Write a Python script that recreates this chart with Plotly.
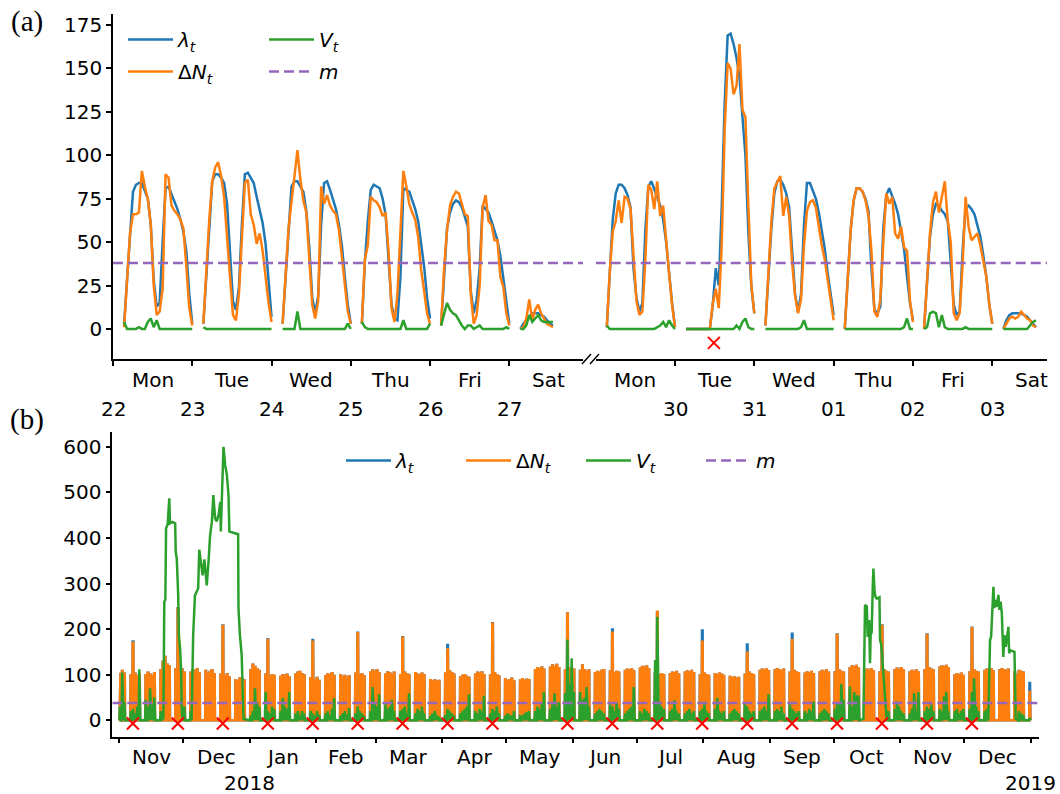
import pandas as pd
import plotly.graph_objects as go

# ---------------- Panel (a): two trading weeks, Oct 22 - Nov 3 ----------------
day_names = ["Mon", "Tue", "Wed", "Thu", "Fri", "Sat"]
week1_dates = ["22", "23", "24", "25", "26", "27"]
week2_dates = ["30", "31", "01", "02", "03"]
week1_day_index = [0, 1, 2, 3, 4, 5]          # days since Mon 22 Oct
week2_day_index = [7, 8, 9, 10, 11, 12]
m_value = 38

lam_week1 = [
    [3, 27, 52, 79, 83, 84, 84, 80, 75, 60, 28, 13, 15, 50, 81, 82, 78, 74, 69, 63, 56, 45, 20, 3],
    [3, 30, 60, 85, 89, 89, 87, 84, 72, 44, 16, 11, 24, 60, 89, 90, 87, 84, 76, 69, 61, 49, 27, 7],
    [3, 30, 57, 82, 85, 85, 82, 79, 68, 47, 18, 9, 19, 60, 84, 85, 80, 75, 69, 60, 48, 30, 14, 3],
    [3, 38, 62, 80, 83, 82, 81, 75, 66, 40, 14, 6, 5, 30, 81, 80, 79, 74, 69, 62, 49, 36, 18, 6],
    [2, 30, 58, 67, 72, 74, 73, 70, 65, 59, 22, 9, 17, 35, 71, 69, 67, 62, 57, 51, 42, 29, 14, 3],
    [0, 3, 5, 7, 9, 9, 9, 8, 7, 5, 3, 2],
]
dN_week1 = [
    [1, 25, 55, 66, 66, 67, 91, 82, 75, 60, 25, 8, 10, 23, 89, 87, 71, 68, 66, 63, 58, 36, 12, 2],
    [3, 35, 63, 85, 93, 96, 88, 76, 50, 30, 8, 5, 20, 55, 84, 86, 66, 60, 49, 55, 45, 30, 15, 4],
    [3, 30, 58, 73, 87, 103, 86, 74, 67, 42, 14, 6, 16, 82, 72, 77, 71, 68, 66, 57, 42, 27, 10, 3],
    [3, 40, 48, 76, 74, 73, 70, 65, 67, 45, 12, 4, 20, 60, 91, 82, 72, 67, 63, 53, 34, 22, 9, 3],
    [2, 35, 57, 71, 76, 79, 78, 72, 66, 65, 20, 3, 8, 25, 70, 77, 62, 60, 51, 51, 30, 24, 9, 2],
    [0, 1, 6, 17, 5, 11, 14, 9, 6, 3, 2, 1],
]
V_week1 = [
    [4, 0, 0, 0, 0, 1, 0, 0, 4, 6, 1, 5, 0, 0, 0, 0, 0, 0, 0, 0, 0, 0, 0, 0],
    [1, 0, 0, 0, 0, 0, 0, 0, 0, 0, 0, 0, 0, 0, 0, 0, 0, 0, 0, 0, 0, 0, 0, 0],
    [0, 0, 0, 0, 0, 10, 0, 0, 0, 0, 0, 0, 0, 0, 0, 0, 0, 0, 0, 0, 0, 0, 3, 0],
    [4, 1, 0, 0, 0, 0, 0, 0, 0, 0, 0, 0, 0, 0, 5, 0, 0, 0, 0, 0, 0, 0, 0, 3],
    [2, 8, 15, 11, 9, 8, 5, 2, 0, 2, 2, 0, 1, 2, 0, 0, 0, 0, 0, 0, 0, 0, 1, 0],
    [0, 0, 2, 8, 4, 6, 8, 5, 4, 4, 4, 4],
]
lam_week2 = [
    [1, 32, 63, 78, 83, 83, 81, 77, 70, 35, 18, 10, 15, 57, 82, 85, 81, 76, 71, 63, 50, 32, 15, 1],
    [0, 0, 0, 0, 0, 0, 0, 0, 0, 14, 35, 25, 70, 130, 169, 170, 164, 156, 145, 122, 100, 55, 24, 9],
    [2, 32, 58, 78, 85, 86, 83, 78, 70, 45, 20, 10, 20, 60, 84, 84, 80, 75, 67, 57, 46, 32, 19, 8],
    [0, 28, 57, 74, 81, 81, 79, 75, 68, 35, 11, 9, 13, 58, 77, 81, 77, 72, 66, 57, 46, 30, 15, 5],
    [0, 28, 53, 66, 72, 71, 68, 66, 62, 38, 14, 8, 10, 45, 70, 71, 69, 66, 60, 53, 42, 30, 14, 3],
    [0, 5, 8, 9, 9, 9, 9, 8, 7, 5, 3, 1],
]
dN_week2 = [
    [1, 33, 56, 62, 74, 61, 76, 75, 69, 40, 16, 8, 10, 40, 83, 80, 69, 85, 65, 71, 49, 32, 14, 1],
    [0, 0, 0, 0, 0, 0, 0, 0, 0, 15, 23, 12, 48, 115, 153, 150, 135, 140, 164, 126, 122, 70, 25, 9],
    [2, 34, 62, 81, 85, 88, 65, 76, 65, 38, 19, 9, 17, 48, 68, 73, 74, 70, 59, 48, 40, 28, 14, 5],
    [0, 30, 57, 74, 81, 81, 79, 74, 65, 45, 10, 7, 17, 50, 78, 72, 76, 55, 52, 59, 47, 45, 16, 4],
    [0, 28, 55, 73, 79, 67, 75, 85, 62, 50, 9, 5, 9, 37, 76, 59, 51, 53, 55, 48, 38, 30, 14, 3],
    [0, 3, 6, 7, 6, 7, 10, 8, 6, 5, 2, 1],
]
V_week2 = [
    [2, 0, 0, 0, 0, 0, 0, 0, 0, 0, 0, 0, 0, 0, 0, 0, 0, 1, 2, 4, 1, 5, 2, 0],
    [0, 0, 0, 0, 0, 0, 0, 0, 0, 0, 0, 0, 0, 0, 0, 0, 0, 2, 0, 4, 6, 1, 0, 0],
    [0, 0, 0, 0, 0, 0, 0, 0, 0, 0, 0, 0, 1, 5, 0, 0, 0, 0, 0, 0, 0, 0, 0, 0],
    [0, 0, 0, 0, 0, 0, 0, 0, 0, 0, 0, 0, 0, 0, 0, 0, 0, 0, 0, 0, 1, 6, 0, 0],
    [0, 1, 9, 10, 9, 1, 8, 1, 0, 0, 0, 0, 0, 0, 1, 0, 0, 0, 0, 0, 0, 0, 0, 0],
    [0, 0, 0, 0, 0, 0, 0, 0, 0, 2, 4, 5],
]
event_a_day = [8.49]   # Tue 30 Oct, around midday

# ---------------- Panel (b): Nov 2017 - Dec 2018 ----------------
b_first_monday = "2017-10-30"
b_data_start = "2017-11-01"
b_data_end = "2018-12-31"
dN_daily = [  # daily peak of ΔN, Mon..Fri, one row per week
    [0, 0, 104, 108, 102], [98, 100, 102, 96, 101], [99, 104, 100, 97, 103],
    [110, 128, 139, 122, 118], [112, 108, 106, 111, 104], [104, 110, 107, 112, 103],
    [108, 102, 106, 110, 101], [100, 98, 96, 101, 94], [88, 85, 92, 90, 87],
    [110, 122, 117, 112, 108], [100, 98, 95, 99, 97], [95, 99, 97, 100, 94],
    [100, 104, 106, 101, 98], [92, 90, 88, 93, 86], [96, 101, 99, 103, 97],
    [98, 95, 97, 93, 96], [102, 100, 98, 101, 96], [104, 109, 106, 110, 103],
    [100, 105, 103, 99, 104], [99, 102, 104, 101, 98], [103, 100, 98, 102, 99],
    [88, 85, 87, 84, 86], [102, 105, 107, 103, 100], [94, 97, 99, 95, 93],
    [100, 104, 102, 105, 99], [98, 100, 103, 99, 96], [90, 86, 88, 91, 85],
    [87, 90, 86, 89, 88], [110, 114, 112, 116, 111], [115, 120, 117, 121, 114],
    [110, 112, 114, 108, 111], [108, 120, 110, 106, 109], [103, 106, 104, 108, 110],
    [107, 105, 103, 106, 104], [108, 111, 109, 112, 107], [113, 117, 115, 118, 112],
    [102, 100, 98, 101, 99], [101, 104, 103, 106, 100], [104, 107, 105, 108, 103],
    [98, 100, 102, 99, 97], [101, 99, 102, 100, 97], [95, 92, 94, 91, 93],
    [100, 102, 104, 101, 99], [108, 111, 109, 112, 107], [109, 112, 110, 108, 111],
    [104, 106, 108, 105, 103], [102, 105, 103, 106, 101], [105, 108, 106, 109, 104],
    [105, 107, 109, 106, 104], [114, 118, 116, 119, 113], [108, 111, 109, 112, 107],
    [105, 107, 109, 106, 104], [110, 113, 111, 114, 109], [105, 108, 106, 109, 104],
    [110, 112, 114, 111, 109], [115, 118, 116, 119, 114], [98, 101, 99, 102, 97],
    [105, 107, 109, 106, 104], [108, 111, 109, 112, 107], [109, 112, 110, 108, 111],
    [105, 98, 108, 106, 104], [62, 0, 0, 0, 0],
]
V_daily = [  # daily peak of V outside the long excursions (None = inside an excursion)
    [0, 0, 30, 105, 40], [20, 25, 15, 30, 112], [45, 30, 70, 35, 50],
    [20, None, None, None, None], [None, None, None, None, 30],
    [20, None, None, None, None], [None] * 5, [None] * 5, [None] * 5,
    [10, 20, 70, 40, 30], [62, 20, 15, 30, 25], [20, 49, 30, 25, 62],
    [15, 20, 10, 20, 15], [20, 15, 10, 20, 12], [15, 20, 10, 25, 49],
    [10, 15, 20, 12, 27], [15, 30, 20, 15, 10], [20, 73, 40, 30, 57],
    [35, 25, 30, 45, 20], [20, 25, 30, 15, 59], [15, 25, 20, 30, 15],
    [10, 15, 20, 10, 8], [12, 25, 20, 15, 10], [15, 20, 25, 30, 57],
    [20, 15, 25, 20, 54], [15, 25, 20, 30, 15], [10, 15, 12, 10, 20],
    [12, 10, 15, 18, 20], [20, 30, 25, 35, 62], [25, 35, 59, 30, 40],
    [60, 177, 80, 136, 62], [62, 45, 50, 73, 30], [15, 20, 25, 20, 15],
    [35, 30, 20, 38, 25], [15, 20, 25, 30, 73], [20, 15, 25, 20, 15],
    [132, 227, 40, 30, 25], [20, 25, 44, 20, 15], [15, 20, 25, 15, 20],
    [20, 25, 35, 20, 15], [25, 49, 20, 15, 20], [15, 20, 25, 20, 15],
    [35, 30, 20, 15, 20], [20, 25, 30, 20, 57], [20, 25, 20, 30, 15],
    [35, 25, 20, 15, 20], [20, 15, 25, 20, 41], [15, 20, 25, 20, 15],
    [25, 35, 40, 80, 45], [74, 30, 62, 55, 55], [None] * 5,
    [None, None, None, None, 20], [25, 41, 30, 20, 15], [15, 25, 59, 20, 62],
    [20, 30, 25, 35, 20], [25, 20, 52, 62, 20], [20, 25, 15, 20, 25],
    [25, 62, 92, 30, 20], [20, 25, None, None, None], [None] * 5,
    [None, None, 20, 15, 12], [5, 0, 0, 0, 0],
]
event_dates = ["2017-11-07", "2017-11-28", "2017-12-19", "2018-01-09", "2018-01-30",
               "2018-02-20", "2018-03-13", "2018-04-03", "2018-04-24", "2018-05-29",
               "2018-06-19", "2018-07-10", "2018-07-31", "2018-08-21", "2018-09-11",
               "2018-10-02", "2018-10-23", "2018-11-13", "2018-12-04"]
event_dN = [170, 245, 207, 176, 172, 191, 181, 155, 212, 234,
            192, 238, 172, 148, 176, 187, 207, 187, 202]
event_lam = [173, 246, 208, 178, 176, 192, 182, 165, 213, 235,
             199, 236, 197, 166, 190, 188, 208, 188, 203]
lam_extra_dates = ["2018-12-31"]
lam_extra_vals = [82]

V_hump1_t = ["2017-11-21 18:00", "2017-11-22 04:00", "2017-11-22 16:00", "2017-11-23 00:00",
             "2017-11-23 18:00", "2017-11-24 12:00", "2017-11-24 20:00", "2017-11-26 00:00",
             "2017-11-27 06:00", "2017-11-27 12:00", "2017-11-28 00:00", "2017-11-28 16:00",
             "2017-11-29 00:00", "2017-11-29 12:00", "2017-11-30 00:00", "2017-11-30 08:00",
             "2017-11-30 18:00"]
V_hump1_v = [5, 260, 265, 421, 430, 487, 432, 435, 432, 370, 355, 274, 187, 160, 114, 18, 3]
V_hump2_t = ["2017-12-05 00:00", "2017-12-05 16:00", "2017-12-06 12:00", "2017-12-08 00:00",
             "2017-12-08 12:00", "2017-12-09 02:00", "2017-12-10 02:00", "2017-12-10 22:00",
             "2017-12-12 00:00", "2017-12-12 20:00", "2017-12-13 14:00", "2017-12-14 10:00",
             "2017-12-15 02:00", "2017-12-15 22:00", "2017-12-16 16:00", "2017-12-17 12:00",
             "2017-12-18 08:00", "2017-12-18 14:00", "2017-12-19 02:00", "2017-12-19 20:00",
             "2017-12-20 14:00", "2017-12-21 10:00", "2017-12-22 04:00", "2017-12-22 14:00",
             "2017-12-26 16:00", "2017-12-26 20:00", "2017-12-27 12:00", "2017-12-28 08:00",
             "2017-12-29 02:00", "2017-12-29 06:00"]
V_hump2_v = [20, 187, 274, 289, 374, 348, 318, 353, 296, 348, 406, 436, 494, 443, 436, 450,
             479, 414, 501, 600, 560, 538, 494, 414, 408, 246, 187, 143, 18, 3]
V_hump3_t = ["2018-10-14 20:00", "2018-10-15 14:00", "2018-10-16 10:00", "2018-10-16 20:00",
             "2018-10-17 12:00", "2018-10-17 22:00", "2018-10-18 08:00", "2018-10-18 16:00",
             "2018-10-19 05:00", "2018-10-19 12:00", "2018-10-20 00:00", "2018-10-20 10:00",
             "2018-10-21 02:00", "2018-10-22 08:00", "2018-10-22 14:00", "2018-10-23 02:00",
             "2018-10-23 12:00", "2018-10-24 05:00", "2018-10-24 22:00", "2018-10-25 16:00"]
V_hump3_v = [3, 253, 250, 183, 220, 125, 212, 190, 293, 333, 286, 271, 267, 270, 176, 168,
             147, 103, 52, 3]
V_hump4_t = ["2018-12-12 05:00", "2018-12-13 00:00", "2018-12-13 12:00", "2018-12-14 02:00",
             "2018-12-14 14:00", "2018-12-15 00:00", "2018-12-15 17:00", "2018-12-16 02:00",
             "2018-12-16 22:00", "2018-12-17 10:00", "2018-12-17 22:00", "2018-12-18 12:00",
             "2018-12-18 22:00", "2018-12-19 05:00", "2018-12-19 17:00", "2018-12-20 07:00",
             "2018-12-20 19:00", "2018-12-21 14:00", "2018-12-21 22:00", "2018-12-22 10:00",
             "2018-12-24 10:00", "2018-12-24 17:00", "2018-12-25 00:00"]
V_hump4_v = [3, 176, 183, 257, 293, 246, 264, 249, 275, 242, 260, 235, 183, 139, 187, 161,
             176, 205, 147, 154, 150, 88, 3]
month_labels = ["Nov", "Dec", "Jan", "Feb", "Mar", "Apr", "May", "Jun", "Jul", "Aug",
                "Sep", "Oct", "Nov", "Dec"]
year_labels = ["2018", "2019"]
year_dates = ["2018-01-01", "2019-01-01"]

# ---------------- styling ----------------
W, H = 1060, 794
C_BLUE, C_ORANGE, C_GREEN, C_PURPLE = "#1f77b4", "#ff7f0e", "#2ca02c", "#9467bd"
LW = 2.5
FONT = "DejaVu Sans"
FS = 20
NAME_LAM = "<i>λ</i><sub><i>t</i></sub>"
NAME_DN = "Δ<i>N</i><sub><i>t</i></sub>"
NAME_V = "<i>V</i><sub><i>t</i></sub>"
NAME_M = "<i>m</i>"
SAMPLE_START = 0.14
SAMPLE_STEP = 0.86 / 23
XA1_RANGE = [0, 5.93]
XA2_RANGE = [7, 12.69]
XB_RANGE = [pd.Timestamp("2017-10-28 21:00"), pd.Timestamp("2019-01-04 21:00")]


def px_x(p):
    return p / W


def px_y(p):
    return 1 - p / H


def day_series(days, values):
    xs, ys = [], []
    for d, vals in zip(days, values):
        for i, v in enumerate(vals):
            xs.append(d + SAMPLE_START + i * SAMPLE_STEP)
            ys.append(v)
        xs.append(None)
        ys.append(None)
    return xs, ys


fig = go.Figure()

# Panel (a) traces
for axis, days, lam, dN, V, show in [
    ("x", week1_day_index, lam_week1, dN_week1, V_week1, True),
    ("x2", week2_day_index, lam_week2, dN_week2, V_week2, False),
]:
    for vals, color, name, leg, rank in [
        (lam, C_BLUE, NAME_LAM, "legend", 1),
        (dN, C_ORANGE, NAME_DN, "legend", 2),
        (V, C_GREEN, NAME_V, "legend2", 1),
    ]:
        x, y = day_series(days, vals)
        fig.add_trace(go.Scatter(x=x, y=y, xaxis=axis, yaxis="y", mode="lines",
                                 line=dict(color=color, width=LW), name=name,
                                 legend=leg, legendrank=rank, legendgroup=name + leg,
                                 showlegend=show, hoverinfo="skip"))
    rng = XA1_RANGE if axis == "x" else XA2_RANGE
    fig.add_trace(go.Scatter(x=rng, y=[m_value, m_value], xaxis=axis, yaxis="y", mode="lines",
                             line=dict(color=C_PURPLE, width=LW, dash="10px,5px"), name=NAME_M,
                             legend="legend2", legendrank=2, legendgroup="m2",
                             showlegend=show, hoverinfo="skip"))

fig.add_trace(go.Scatter(x=event_a_day, y=[-8] * len(event_a_day), xaxis="x2", yaxis="y",
                         mode="markers", showlegend=False, hoverinfo="skip",
                         marker=dict(symbol="x-thin", size=12, color="red",
                                     line=dict(color="red", width=2))))

# Panel (b) traces
monday0 = pd.Timestamp(b_first_monday)
start = pd.Timestamp(b_data_start)
end = pd.Timestamp(b_data_end)
ev_dN = {pd.Timestamp(d): v for d, v in zip(event_dates, event_dN)}
ev_lam = {pd.Timestamp(d): v for d, v in zip(event_dates, event_lam)}
for d, v in zip(lam_extra_dates, lam_extra_vals):
    ev_lam[pd.Timestamp(d)] = v

FR4 = [0.28, 0.42, 0.70, 0.84]
lam_x, lam_y, dn_x, dn_y = [], [], [], []
green_pts = []
for w, week_vals in enumerate(dN_daily):
    for k in range(5):
        d = monday0 + pd.Timedelta(days=7 * w + k)
        if d < start or d > end:
            continue
        Ld = ev_dN.get(d, week_vals[k])
        Ll = ev_lam.get(d, week_vals[k])
        for f, on in zip(FR4, [0, 1, 1, 0]):
            t = d + pd.Timedelta(hours=24 * f)
            dn_x.append(t)
            dn_y.append(Ld * on)
            lam_x.append(t)
            lam_y.append(Ll * on)
        gv = V_daily[w][k]
        if gv is not None:
            for f, val in zip([0.2, 0.5, 0.9], [0, gv, 0]):
                green_pts.append((d + pd.Timedelta(hours=24 * f), val))
for ts, vs in [(V_hump1_t, V_hump1_v), (V_hump2_t, V_hump2_v),
               (V_hump3_t, V_hump3_v), (V_hump4_t, V_hump4_v)]:
    for t, v in zip(ts, vs):
        green_pts.append((pd.Timestamp(t), v))
green_pts.sort(key=lambda p: p[0])

fig.add_trace(go.Scatter(x=lam_x, y=lam_y, xaxis="x3", yaxis="y3", mode="lines",
                         line=dict(color=C_BLUE, width=LW), name=NAME_LAM,
                         legend="legend3", legendrank=1, hoverinfo="skip"))
fig.add_trace(go.Scatter(x=dn_x, y=dn_y, xaxis="x3", yaxis="y3", mode="lines",
                         line=dict(color=C_ORANGE, width=LW), name=NAME_DN,
                         legend="legend3", legendrank=2, hoverinfo="skip"))
fig.add_trace(go.Scatter(x=[p[0] for p in green_pts], y=[p[1] for p in green_pts],
                         xaxis="x3", yaxis="y3", mode="lines",
                         line=dict(color=C_GREEN, width=LW), name=NAME_V,
                         legend="legend3", legendrank=3, hoverinfo="skip"))
fig.add_trace(go.Scatter(x=XB_RANGE, y=[m_value, m_value], xaxis="x3", yaxis="y3", mode="lines",
                         line=dict(color=C_PURPLE, width=LW, dash="10px,5px"), name=NAME_M,
                         legend="legend3", legendrank=4, hoverinfo="skip"))
fig.add_trace(go.Scatter(x=[pd.Timestamp(d) + pd.Timedelta(hours=12) for d in event_dates],
                         y=[-7] * len(event_dates), xaxis="x3", yaxis="y3", mode="markers",
                         showlegend=False, hoverinfo="skip",
                         marker=dict(symbol="x-thin", size=12, color="red",
                                     line=dict(color="red", width=2))))

# ---------------- axes ----------------
axis_common = dict(showline=True, linecolor="black", linewidth=1.5, ticks="outside",
                   ticklen=5, tickwidth=1.5, tickcolor="black", showgrid=False,
                   zeroline=False, tickfont=dict(family=FONT, size=FS, color="black"))
month_ticks = pd.date_range("2017-11-01", "2019-01-01", freq="MS")
leg_font = dict(family=FONT, size=FS, color="black")

fig.update_layout(
    width=W, height=H, margin=dict(l=0, r=0, t=0, b=0),
    paper_bgcolor="white", plot_bgcolor="white",
    xaxis=dict(domain=[px_x(113), px_x(583)], range=XA1_RANGE, anchor="y",
               tickmode="array", tickvals=week1_day_index, showticklabels=False, **axis_common),
    xaxis2=dict(domain=[px_x(595.7), px_x(1047)], range=XA2_RANGE, anchor="y",
                tickmode="array", tickvals=week2_day_index[1:], showticklabels=False, **axis_common),
    yaxis=dict(domain=[px_y(359), px_y(14)], range=[-17.3, 181.3], anchor="x",
               tickmode="array", tickvals=list(range(0, 176, 25)), **axis_common),
    xaxis3=dict(domain=[px_x(112.3), px_x(1039)], range=XB_RANGE, anchor="y3", type="date",
                tickmode="array", tickvals=list(month_ticks), showticklabels=False, **axis_common),
    yaxis3=dict(domain=[px_y(736.7), px_y(431.7)], range=[-36, 633], anchor="x3",
                tickmode="array", tickvals=list(range(0, 601, 100)), **axis_common),
    legend=dict(x=px_x(123), y=px_y(20), xanchor="left", yanchor="top", orientation="v",
                bgcolor="rgba(0,0,0,0)", font=leg_font, itemwidth=45, tracegroupgap=3),
    legend2=dict(x=px_x(264), y=px_y(20), xanchor="left", yanchor="top", orientation="v",
                 bgcolor="rgba(0,0,0,0)", font=leg_font, itemwidth=45, tracegroupgap=3),
    legend3=dict(x=px_x(341), y=px_y(441), xanchor="left", yanchor="top", orientation="h",
                 bgcolor="rgba(0,0,0,0)", font=leg_font,
                 itemwidth=45, entrywidth=60, entrywidthmode="pixels"),
)

# ---------------- text labels ----------------
ann = []
lab_font = dict(family=FONT, size=FS, color="black")
for axis, days in [("x", week1_day_index), ("x2", week2_day_index)]:
    for d, name in zip(days, day_names):
        ann.append(dict(x=d + 0.5, y=px_y(380), xref=axis, yref="paper", text=name,
                        showarrow=False, font=lab_font, xanchor="center", yanchor="middle"))
for d, lab in zip(week1_day_index, week1_dates):
    ann.append(dict(x=d, y=px_y(409), xref="x", yref="paper", text=lab, showarrow=False,
                    font=lab_font, xanchor="center", yanchor="middle"))
for d, lab in zip(week2_day_index[1:], week2_dates):
    ann.append(dict(x=d, y=px_y(409), xref="x2", yref="paper", text=lab, showarrow=False,
                    font=lab_font, xanchor="center", yanchor="middle"))
for i, lab in enumerate(month_labels):
    mid = month_ticks[i] + (month_ticks[i + 1] - month_ticks[i]) / 2
    ann.append(dict(x=mid, y=px_y(757), xref="x3", yref="paper", text=lab, showarrow=False,
                    font=lab_font, xanchor="center", yanchor="middle"))
for d, lab in zip(year_dates, year_labels):
    ann.append(dict(x=pd.Timestamp(d), y=px_y(783), xref="x3", yref="paper", text=lab,
                    showarrow=False, font=lab_font, xanchor="center", yanchor="middle"))
panel_font = dict(family="Liberation Serif", size=29, color="black")
ann.append(dict(x=px_x(27), y=px_y(22), xref="paper", yref="paper", text="(a)",
                showarrow=False, font=panel_font, xanchor="center", yanchor="middle"))
ann.append(dict(x=px_x(27), y=px_y(419), xref="paper", yref="paper", text="(b)",
                showarrow=False, font=panel_font, xanchor="center", yanchor="middle"))
fig.update_layout(annotations=ann)

# axis break marks
shapes = []
for x0 in [582, 590]:
    shapes.append(dict(type="line", xref="paper", yref="paper",
                       x0=px_x(x0), y0=px_y(364), x1=px_x(x0 + 9), y1=px_y(354),
                       line=dict(color="black", width=1.5)))
fig.update_layout(shapes=shapes)

fig.write_html("out.html", config={"displayModeBar": False},
               post_script="document.body.style.margin='0';document.body.style.overflow='hidden';")
